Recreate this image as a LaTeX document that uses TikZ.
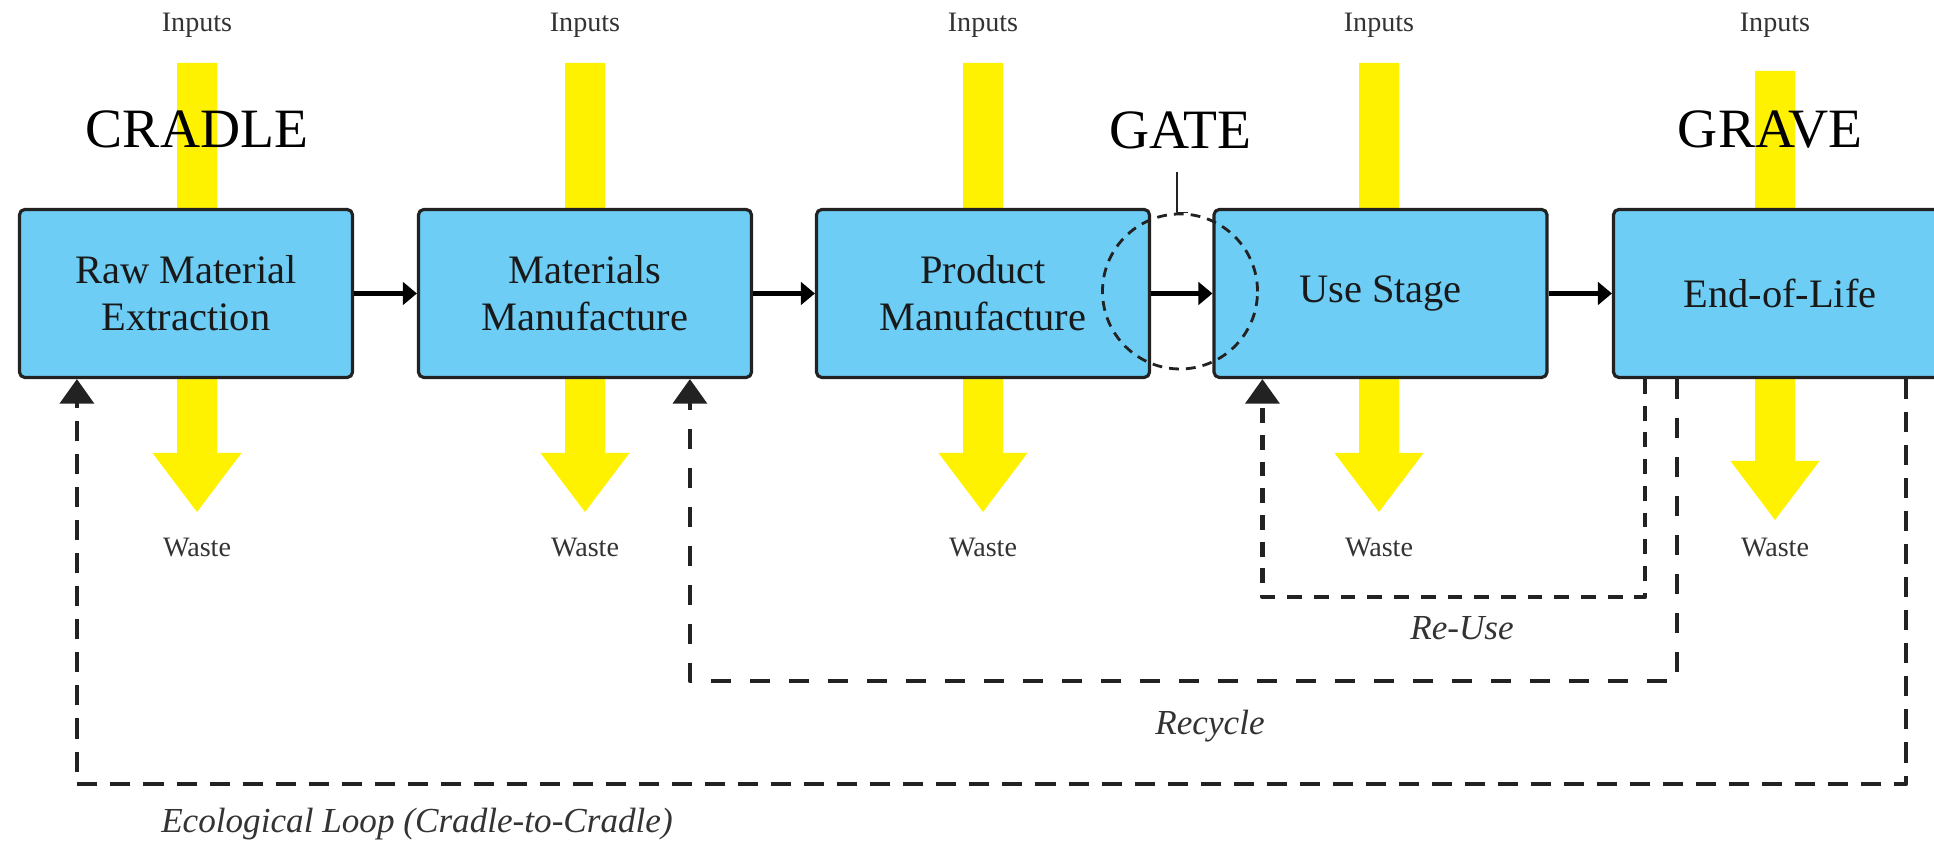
\documentclass[tikz,border=0pt]{standalone}
\usepackage{fontspec}
\setmainfont{Liberation Serif}
\usetikzlibrary{arrows.meta}
\definecolor{stagefill}{RGB}{109,205,245}
\definecolor{flowyellow}{RGB}{255,242,0}
\definecolor{edgegray}{RGB}{34,34,34}
\definecolor{labelgray}{RGB}{51,51,51}
\begin{document}
\begin{tikzpicture}[line join=round,
		stage/.style={draw=edgegray, line width=0.9pt, fill=stagefill, rounded corners=1.5pt, minimum width=3.33cm, minimum height=1.68cm, align=center, text=black!90, font=\fontsize{11.5}{13.4}\selectfont},
		phase/.style={anchor=base, font=\fontsize{15.8}{18}\selectfont},
		tag/.style={anchor=base, text=labelgray, font=\fontsize{8}{9.6}\selectfont},
		looptag/.style={anchor=base, text=labelgray, font=\fontsize{10}{12}\selectfont\itshape},
		flow/.style={draw=black, line width=1.5pt, -{Triangle[length=4pt,width=6.4pt]}},
		loopline/.style={draw=edgegray, line width=1.3pt, -{Triangle[length=7pt,width=9.6pt]}}]
	\useasboundingbox (0,0) rectangle (19.34,8.44);
	\def\ybar{7.81} \def\yhead{3.91} \def\ytip{3.32}
	% yellow inputs / waste arrows
	\foreach \x/\d [count=\i] in {1.97/0, 5.85/0, 9.83/0, 13.79/0, 17.75/0.08}{
		\fill[flowyellow] (\x-0.2,\ybar-\d) -- (\x+0.2,\ybar-\d) -- (\x+0.2,\yhead-\d) -- (\x+0.445,\yhead-\d)
			-- (\x,\ytip-\d) -- (\x-0.445,\yhead-\d) -- (\x-0.2,\yhead-\d) -- cycle;
		\node[tag] (in\i) at (\x,8.12) {Inputs};
		\node[tag] (out\i) at (\x,2.87) {Waste};
	}
	% stages
	\node[stage] (raw) at (1.86,5.505) {Raw Material\\Extraction};
	\node[stage] (matman) at (5.85,5.505) {Materials\\Manufacture};
	\node[stage] (prodman) at (9.83,5.505) {Product\\Manufacture};
	\node[stage] (use) at (13.805,5.505) {Use Stage};
	\node[stage] (eol) at (17.80,5.505) {End-of-Life};
	% gate
	\node[circle, draw=edgegray, line width=0.8pt, dash pattern=on 2.8pt off 2pt, inner sep=0pt, minimum size=1.55cm] (gatezone) at (11.80,5.525) {};
	\coordinate (gatetick) at (11.77,6.72);
	\draw[edgegray, line width=0.5pt] (gatetick) |- ([xshift=0.8mm]gatezone.north);
	\node[phase] (cradle) at (1.97,6.96) {CRADLE};
	\node[phase] (gate) at (11.80,6.95) {GATE};
	\node[phase] (grave) at (17.70,6.96) {GRAVE};
	% main flow
	\draw[flow] (raw) -- (matman);
	\draw[flow] (matman) -- (prodman);
	\draw[flow] (prodman) -- (use);
	\draw[flow] (use) -- (eol);
	% loops
	\draw[loopline, dash pattern=on 4.2pt off 3.4pt] ([xshift=3.3mm]eol.south west) -- ++(0,-2.18) -| ([xshift=5mm]use.south west);
	\draw[loopline, dash pattern=on 5.7pt off 5.4pt] ([xshift=6.5mm]eol.south west) -- ++(0,-3.02) -| ([xshift=27.3mm]matman.south west);
	\draw[loopline, dash pattern=on 5.7pt off 3.7pt] ([xshift=29.4mm]eol.south west) -- ++(0,-4.05) -| ([xshift=5.9mm]raw.south west);
	\node[looptag] (reuse) at (14.62,2.04) {Re-Use};
	\node[looptag] (recycle) at (12.10,1.09) {Recycle};
	\node[looptag] (ecoloop) at (4.17,0.11) {Ecological Loop (Cradle-to-Cradle)};
\end{tikzpicture}
\end{document}
